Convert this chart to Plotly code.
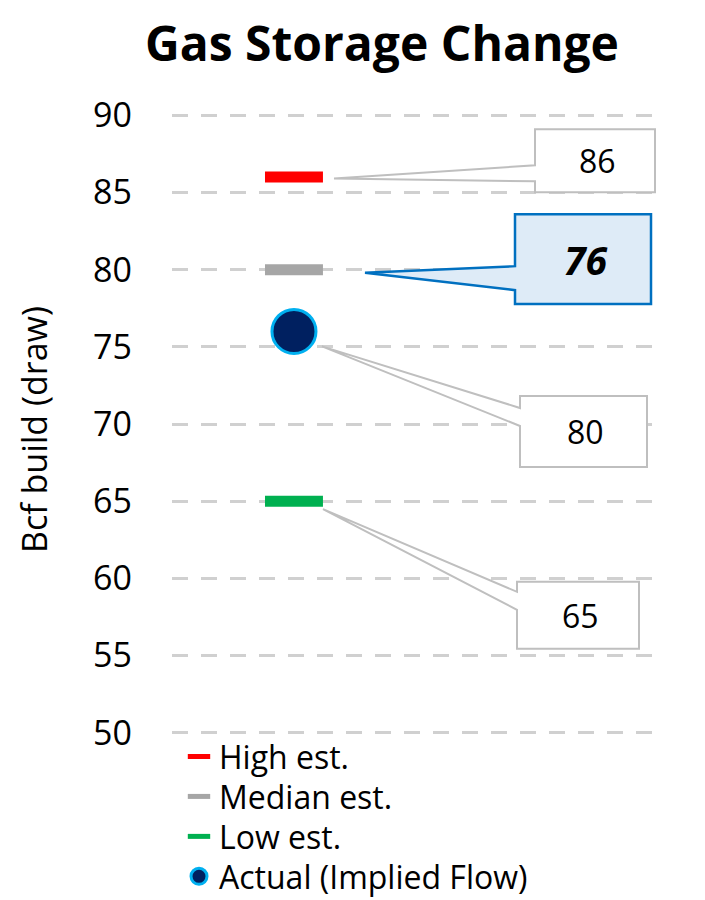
import plotly.graph_objects as go

# ---------------- data ----------------
series_names = ["High est.", "Median est.", "Low est.", "Actual (Implied Flow)"]
series_values = [86, 80, 65, 76]
callout_labels = ["86", "76", "65", "80"]
category = [""]
y_ticks = [50, 55, 60, 65, 70, 75, 80, 85, 90]
title_text = "Gas Storage Change"
y_title = "Bcf build (draw)"

# ---------------- styles ----------------
FONT = "Open Sans"
colors = ["#FF0000", "#A6A6A6", "#00B050", "#002060"]

OFF = 8                      # page body margin
W, H = 705 - OFF, 900 - OFF  # figure size
# plot area in screen pixels (reference picture)
SX0, SX1 = 172, 656
UNIT = (733 - 115) / 40.0    # px per value unit
EXT = 0.15
YMIN, YMAX = 50 - EXT, 90 + EXT
SY0 = 115 - EXT * UNIT
SY1 = 733 + EXT * UNIT
L = SX0 - OFF
R = W - (SX1 - OFF)
T = SY0 - OFF
B = H - (SY1 - OFF)
PW = SX1 - SX0
PH = SY1 - SY0


def px_x(px):
    return (px - SX0) / PW


def px_y(py):
    return YMAX - (py - SY0) / UNIT


def py_paper(py):
    return (SY1 - py) / PH


def dy(pix):
    return pix / UNIT


# callout styles: box (x0, y0, x1, y1) px, wedge base (top, bottom) px, tip x px, tip offset px
callout_styles = [
    dict(box=(535, 129, 655, 192), base=(165, 181), tipx=334, tipoff=1.5,
         fill="#FFFFFF", line="#BFBFBF", lw=2, size=32, bold=False),
    dict(box=(515, 214, 651, 304), base=(266, 290), tipx=365, tipoff=3,
         fill="#DEEBF7", line="#0070C0", lw=2.5, size=39, bold=True),
    dict(box=(517, 582, 639, 649), base=(592, 610), tipx=323, tipoff=8,
         fill="#FFFFFF", line="#BFBFBF", lw=2, size=32, bold=False),
    dict(box=(520, 396, 647, 467), base=(408, 426), tipx=322, tipoff=15,
         fill="#FFFFFF", line="#BFBFBF", lw=2, size=32, bold=False),
]
legend_rows_px = [757, 797, 837, 877]   # vertical centre of each legend row
legend_ids = ["legend", "legend2", "legend3", "legend4"]

fig = go.Figure()

for i, (name, val) in enumerate(zip(series_names, series_values)):
    if i < 3:
        marker = dict(symbol="line-ew", size=41.4, color=colors[i],
                      line=dict(color=colors[i], width=11))
    else:
        marker = dict(symbol="circle", size=44, color=colors[i],
                      line=dict(color="#00B0F0", width=3))
    fig.add_trace(go.Scatter(x=category, y=[val], mode="markers", name=name,
                             marker=marker, showlegend=True, legend=legend_ids[i]))

shapes = []
annotations = []
for val, lab, st in zip(series_values, callout_labels, callout_styles):
    x0, y0, x1, y1 = st["box"]
    b0, b1 = st["base"]
    tip_y = val - dy(st["tipoff"])
    path = (f"M {px_x(x0)},{px_y(y0)} L {px_x(x1)},{px_y(y0)} L {px_x(x1)},{px_y(y1)} "
            f"L {px_x(x0)},{px_y(y1)} L {px_x(x0)},{px_y(b1)} L {px_x(st['tipx'])},{tip_y} "
            f"L {px_x(x0)},{px_y(b0)} Z")
    shapes.append(dict(type="path", path=path, xref="paper", yref="y",
                       fillcolor=st["fill"], line=dict(color=st["line"], width=st["lw"]),
                       layer="above"))
    txt = f"<b><i>{lab}</i></b>" if st["bold"] else lab
    annotations.append(dict(x=px_x((x0 + x1) / 2 + 2), y=px_y((y0 + y1) / 2), xref="paper", yref="y",
                            text=txt, showarrow=False,
                            font=dict(family=FONT, size=st["size"], color="#000000"),
                            xanchor="center", yanchor="middle"))

annotations.append(dict(x=px_x(382), y=py_paper(42), xref="paper", yref="paper",
                        text=f"<b>{title_text}</b>", showarrow=False,
                        font=dict(family=FONT, size=48, color="#000000"),
                        xanchor="center", yanchor="middle"))

annotations.append(dict(x=px_x(34), y=py_paper(430), xref="paper", yref="paper",
                        text=y_title, textangle=-90, showarrow=False,
                        font=dict(family=FONT, size=34, color="#000000"),
                        xanchor="center", yanchor="middle"))

layout_legends = {}
for lid, row in zip(legend_ids, legend_rows_px):
    layout_legends[lid] = dict(x=px_x(179), y=py_paper(row), xanchor="left", yanchor="middle",
                               font=dict(family=FONT, size=32, color="#000000"),
                               bgcolor="rgba(0,0,0,0)", itemwidth=30)

fig.update_layout(
    width=W, height=H,
    margin=dict(l=L, r=R, t=T, b=B, autoexpand=False),
    paper_bgcolor="#FFFFFF", plot_bgcolor="#FFFFFF",
    font=dict(family=FONT, size=30, color="#000000"),
    showlegend=True,
    shapes=shapes,
    annotations=annotations,
    **layout_legends,
)

fig.update_xaxes(type="category", range=[-1.008, 2.992], showgrid=False,
                 showticklabels=False, zeroline=False, showline=False, ticks="")
fig.update_yaxes(range=[YMIN, YMAX], tickvals=y_ticks, showgrid=True,
                 gridcolor="#D0D0D0", gridwidth=3, griddash="16px,13px",
                 zeroline=False, showline=False, ticks="",
                 tickfont=dict(family=FONT, size=34, color="#000000"),
                 ticklabelstandoff=39)

fig.write_html("out.html")
